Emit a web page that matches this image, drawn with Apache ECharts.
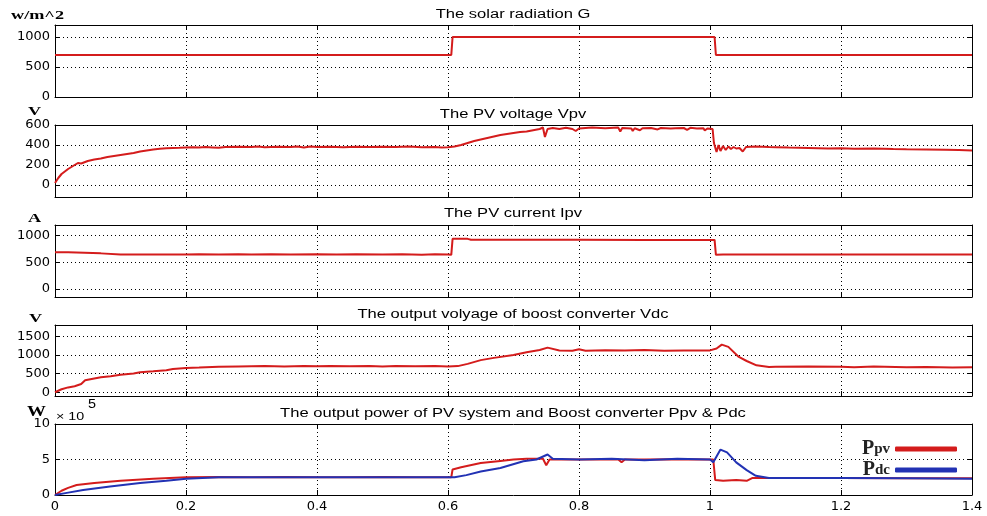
<!DOCTYPE html>
<html>
<head>
<meta charset="utf-8">
<script src="https://cdn.jsdelivr.net/npm/echarts@6/dist/echarts.min.js"></script>
<style>
  html, body { margin: 0; padding: 0; background: #fff; }
  #chart { width: 987px; height: 516px; }
</style>
</head>
<body>
<div id="chart"></div>
<script>
// time axis ticks (s)
var timeTicks = [0, 0.2, 0.4, 0.6, 0.8, 1, 1.2, 1.4];

// solar radiation G (w/m^2)
var radiation = [[0,700],[0.605,700],[0.607,1000],[1.007,1000],[1.009,700],[1.4,700]];

// PV voltage Vpv (V)
var pvVoltage = [[0,20],[0.005,70],[0.01,110],[0.02,160],[0.03,200],[0.035,220],[0.04,215],[0.05,240],[0.06,255],[0.07,265],[0.08,280],[0.09,290],[0.1,300],[0.11,310],[0.12,320],[0.13,335],[0.14,345],[0.15,355],[0.16,362],[0.17,368],[0.18,370],[0.19,372],[0.2,375],[0.21,378],[0.22,374],[0.23,380],[0.24,376],[0.25,372],[0.26,380],[0.28,383],[0.3,380],[0.31,385],[0.32,378],[0.34,382],[0.36,380],[0.37,386],[0.38,376],[0.39,384],[0.4,379],[0.42,382],[0.44,377],[0.46,383],[0.48,379],[0.5,382],[0.52,380],[0.54,384],[0.56,378],[0.58,381],[0.59,376],[0.6,378],[0.61,385],[0.62,400],[0.64,440],[0.66,470],[0.68,500],[0.7,520],[0.71,530],[0.72,535],[0.73,548],[0.74,560],[0.745,575],[0.748,480],[0.752,560],[0.76,570],[0.77,560],[0.78,572],[0.79,560],[0.795,540],[0.8,565],[0.82,575],[0.84,568],[0.86,574],[0.863,535],[0.866,570],[0.88,565],[0.882,540],[0.885,568],[0.893,548],[0.897,568],[0.91,570],[0.92,556],[0.925,570],[0.94,565],[0.943,548],[0.947,568],[0.96,570],[0.965,552],[0.97,572],[0.98,565],[0.99,568],[0.992,545],[0.996,565],[1.004,560],[1.006,420],[1.01,330],[1.013,400],[1.016,340],[1.02,390],[1.024,350],[1.028,385],[1.032,360],[1.036,380],[1.04,365],[1.045,370],[1.05,335],[1.055,380],[1.07,385],[1.09,380],[1.1,378],[1.12,374],[1.15,370],[1.18,365],[1.2,368],[1.22,362],[1.25,364],[1.28,360],[1.3,358],[1.33,356],[1.36,353],[1.38,350],[1.4,345]];

// PV current Ipv (A)
var pvCurrent = [[0,690],[0.02,690],[0.022,670],[0.07,668],[0.072,645],[0.1,645],[0.15,648],[0.2,645],[0.22,650],[0.25,645],[0.28,652],[0.3,646],[0.33,650],[0.36,645],[0.4,650],[0.43,646],[0.46,652],[0.5,645],[0.53,650],[0.56,644],[0.58,650],[0.6,645],[0.605,640],[0.607,940],[0.63,940],[0.635,925],[0.7,925],[0.8,922],[0.9,920],[1.0,920],[1.007,920],[1.009,640],[1.02,645],[1.1,648],[1.2,646],[1.3,648],[1.4,648]];

// boost converter output voltage Vdc (V)
var dcVoltage = [[0,0],[0.01,80],[0.02,130],[0.03,160],[0.04,220],[0.046,320],[0.06,370],[0.07,400],[0.085,430],[0.1,470],[0.12,500],[0.13,535],[0.15,560],[0.17,590],[0.18,620],[0.2,650],[0.22,660],[0.25,680],[0.28,690],[0.3,695],[0.32,700],[0.35,690],[0.38,700],[0.4,695],[0.42,705],[0.45,695],[0.48,700],[0.5,690],[0.52,700],[0.55,695],[0.58,700],[0.6,690],[0.615,700],[0.63,760],[0.65,860],[0.67,920],[0.7,1000],[0.72,1070],[0.74,1130],[0.752,1195],[0.77,1120],[0.79,1110],[0.8,1150],[0.81,1110],[0.84,1125],[0.87,1115],[0.9,1130],[0.93,1110],[0.96,1120],[0.99,1115],[1.0,1120],[1.01,1170],[1.018,1275],[1.028,1215],[1.044,945],[1.056,837],[1.071,720],[1.09,677],[1.1,680],[1.15,690],[1.2,685],[1.22,670],[1.25,690],[1.3,670],[1.33,675],[1.37,665],[1.4,670]];

// output power, in units of 10^5 W
var powerPv = [[0,0],[0.01,0.6],[0.02,1.0],[0.033,1.4],[0.06,1.7],[0.1,2.0],[0.15,2.3],[0.2,2.5],[0.25,2.55],[0.3,2.5],[0.35,2.55],[0.4,2.5],[0.45,2.5],[0.5,2.55],[0.55,2.5],[0.6,2.5],[0.605,2.5],[0.607,3.6],[0.62,3.9],[0.65,4.5],[0.68,4.8],[0.7,5.0],[0.72,5.1],[0.745,5.1],[0.75,4.2],[0.755,5.0],[0.8,5.0],[0.86,5.0],[0.865,4.6],[0.87,5.0],[0.9,5.0],[0.95,5.05],[1.0,5.0],[1.005,5.0],[1.008,2.1],[1.02,2.0],[1.04,2.1],[1.056,2.0],[1.065,2.4],[1.1,2.4],[1.2,2.4],[1.3,2.35],[1.4,2.35]];
var powerDc = [[0,0],[0.018,0.3],[0.043,0.7],[0.084,1.2],[0.13,1.7],[0.17,2.0],[0.2,2.3],[0.25,2.5],[0.3,2.5],[0.4,2.5],[0.5,2.5],[0.6,2.5],[0.61,2.5],[0.628,2.8],[0.65,3.3],[0.68,3.8],[0.715,4.75],[0.735,5.0],[0.752,5.7],[0.76,5.1],[0.8,5.0],[0.85,5.1],[0.9,4.9],[0.95,5.1],[1.0,5.0],[1.005,4.6],[1.016,6.4],[1.026,6.0],[1.04,4.6],[1.056,3.5],[1.07,2.7],[1.09,2.4],[1.2,2.4],[1.3,2.35],[1.4,2.3]];

// y tick labels per panel
var yTicks = [
  [0, 500, 1000],
  [0, 200, 400, 600],
  [0, 500, 1000],
  [0, 500, 1000, 1500],
  [0, 5, 10]
];

var titles = [
  "The solar radiation G",
  "The PV voltage Vpv",
  "The PV current Ipv",
  "The output volyage of boost converter Vdc",
  "The output power of PV system and Boost converter Ppv & Pdc"
];
var titleY = [15, 115, 214, 315, 414];

var RED = "#d41c1c";
var BLUE = "#2232b4";

// panel layout (pixels)
var panels = [
  { top: 25, height: 72, min: 0, max: 1200 },
  { top: 125, height: 72, min: -120, max: 600 },
  { top: 225, height: 72, min: -150, max: 1200 },
  { top: 325, height: 71, min: -100, max: 1800 },
  { top: 424, height: 71, min: 0, max: 10 }
];

var chart = echarts.init(document.getElementById("chart"), null, { renderer: "canvas" });

var grids = [], xAxes = [], yAxes = [];
var tickFont = { color: "#000", fontFamily: "DejaVu Sans", fontSize: 13 };

panels.forEach(function(p, i) {
  grids.push({ left: 55, right: 15, top: p.top, height: p.height, show: false });
  // bottom and top time axes
  [0, 1].forEach(function(k) {
    xAxes.push({
      type: "value",
      gridIndex: i,
      position: k === 0 ? "bottom" : "top",
      min: 0,
      max: 1.4,
      interval: 0.2,
      axisLine: { show: true, onZero: false, lineStyle: { color: "#000", width: 1 } },
      axisTick: { show: true, inside: true, length: 5, lineStyle: { color: "#000" } },
      axisLabel: Object.assign({
        show: k === 0 && i === panels.length - 1,
        margin: 5
      }, tickFont),
      splitLine: {
        show: k === 0,
        lineStyle: { color: "#000", type: [1, 3], width: 1 }
      }
    });
  });
  // left and right value axes
  [0, 1].forEach(function(k) {
    yAxes.push({
      type: "value",
      gridIndex: i,
      position: k === 0 ? "left" : "right",
      min: p.min,
      max: p.max,
      axisLine: { show: true, onZero: false, lineStyle: { color: "#000", width: 1 } },
      axisTick: { show: true, inside: true, length: 5, customValues: yTicks[i], lineStyle: { color: "#000" } },
      axisLabel: Object.assign({
        show: k === 0,
        margin: 5,
        customValues: yTicks[i],
        formatter: function(v) { return String(v); }
      }, tickFont),
      splitLine: {
        show: k === 0,
        lineStyle: { color: "#000", type: [1, 3], width: 1 }
      }
    });
  });
});

function lineSeries(name, data, idx, color) {
  return {
    name: name,
    type: "line",
    xAxisIndex: idx * 2,
    yAxisIndex: idx * 2,
    data: data,
    showSymbol: false,
    symbol: "none",
    lineStyle: { color: color, width: 2 },
    itemStyle: { color: color },
    animation: false
  };
}

// the picture is stretched sideways, so texts get a scaleX
function label(text, x, y, font, sx, align) {
  return {
    type: "text",
    x: x,
    y: y,
    scaleX: sx,
    style: { text: text, font: font, fill: "#000", textAlign: align || "left", textVerticalAlign: "middle" }
  };
}

var graphicItems = [];
titles.forEach(function(t, i) {
  graphicItems.push(label(t, 513, titleY[i], "12px 'Liberation Sans'", 1.38, "center"));
});
var unitFont = "bold 13px 'Liberation Serif'";
graphicItems.push(
  label("w/m^2", 11, 16, unitFont, 1.4),
  label("V", 28, 112, unitFont, 1.4),
  label("A", 28, 219, unitFont, 1.4),
  label("V", 29, 319, unitFont, 1.4),
  label("W", 27, 412, "bold 14px 'Liberation Serif'", 1.35),
  label("\u00d7 10", 56, 417, "11px 'Liberation Sans'", 1.3),
  label("5", 88, 405, "12px 'Liberation Sans'", 1.2)
);

var option = {
  backgroundColor: "#fff",
  animation: false,
  grid: grids,
  xAxis: xAxes,
  yAxis: yAxes,
  legend: {
    orient: "vertical",
    right: 30,
    top: 439,
    padding: 0,
    align: "right",
    itemWidth: 62,
    itemHeight: 5,
    itemGap: 1,
    icon: "roundRect",
    data: ["Ppv", "Pdc"],
    formatter: function(name) {
      return "{p|P}{s|" + name.slice(1) + "}";
    },
    textStyle: {
      rich: {
        p: { fontFamily: "Liberation Serif", fontWeight: "bold", fontSize: 20, color: "#222", lineHeight: 19 },
        s: { fontFamily: "Liberation Serif", fontWeight: "bold", fontSize: 15, color: "#222", lineHeight: 19 }
      }
    }
  },
  graphic: graphicItems,
  series: [
    lineSeries("G", radiation, 0, RED),
    lineSeries("Vpv", pvVoltage, 1, RED),
    lineSeries("Ipv", pvCurrent, 2, RED),
    lineSeries("Vdc", dcVoltage, 3, RED),
    lineSeries("Ppv", powerPv, 4, RED),
    lineSeries("Pdc", powerDc, 4, BLUE)
  ]
};

chart.setOption(option);
</script>
</body>
</html>
